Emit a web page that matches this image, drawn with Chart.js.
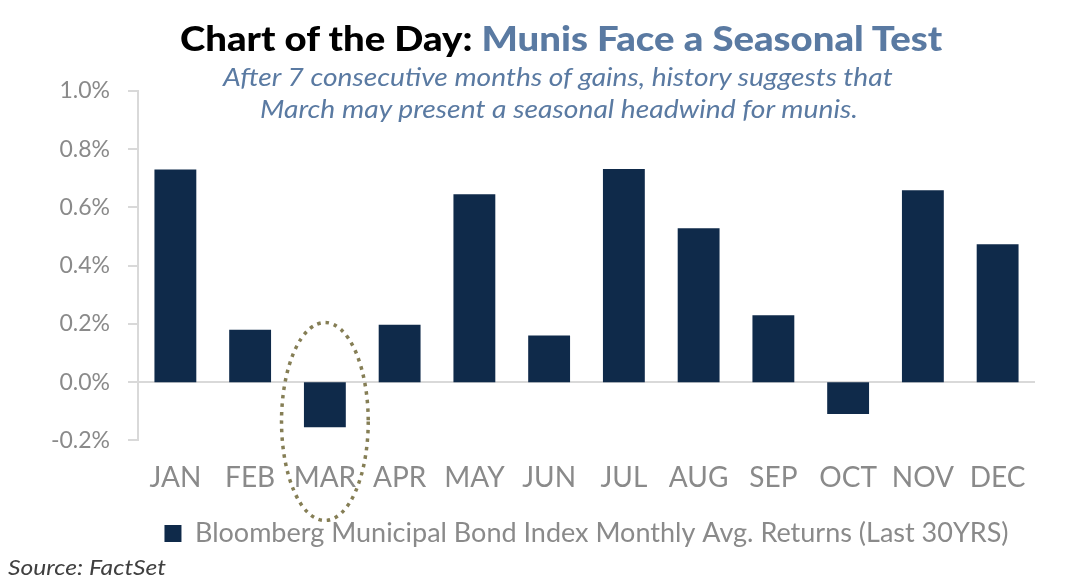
<!DOCTYPE html>
<html><head><meta charset="utf-8">
<script src="https://cdn.jsdelivr.net/npm/chart.js@4.4.1/dist/chart.umd.min.js"></script>
<style>
html,body{margin:0;padding:0;background:#fff;}
#wrap{position:relative;width:1079px;height:586px;overflow:hidden;background:#fff;}
#c{position:absolute;left:0;top:0;}
.t{position:absolute;white-space:nowrap;transform-origin:left top;line-height:1;font-family:Lato,"Noto Sans",sans-serif;}
#title{font-weight:900;font-size:35px;}
#sub1,#sub2{font-style:italic;font-size:26px;color:#5a7aa2;}
#src{font-style:italic;font-size:22px;color:#404040;}
</style></head><body>
<div id="wrap">
<canvas id="c" width="1079" height="586"></canvas>
<div id="title" class="t"><span style="color:#000">Chart of the Day:</span> <span style="color:#5a7aa2">Munis Face a Seasonal Test</span></div>
<div id="sub1" class="t">After 7 consecutive months of gains, history suggests that</div>
<div id="sub2" class="t">March may present a seasonal headwind for munis.</div>
<div id="src" class="t">Source: FactSet</div>
</div>
<script>
// ---- data ----
const months = ['JAN','FEB','MAR','APR','MAY','JUN','JUL','AUG','SEP','OCT','NOV','DEC'];
const avgReturns = [0.73, 0.18, -0.155, 0.197, 0.645, 0.16, 0.732, 0.529, 0.23, -0.109, 0.659, 0.474];
const seriesLabel = 'Bloomberg Municipal Bond Index Monthly Avg. Returns (Last 30YRS)';
const yMin = -0.2, yMax = 1.0, yStep = 0.2;
const highlightMonth = 'MAR';
const highlightTop = 0.205, highlightBottom = -0.475;

// ---- text placement ----
function fit(id, left, top, width){
  const el = document.getElementById(id);
  el.style.left = left + 'px';
  el.style.top = top + 'px';
  const w = el.offsetWidth;
  el.style.transform = 'scaleX(' + (width / w) + ')';
}
fit('title', 180, 20, 762);
fit('sub1', 223, 63, 670);
fit('sub2', 260, 95, 598);
fit('src', 8, 556, 158);

// ---- ellipse annotation ----
const ellipsePlugin = {
  id: 'ellipse',
  afterDraw(chart){
    const xs = chart.scales.x, ys = chart.scales.y;
    const idx = months.indexOf(highlightMonth);
    const cx = xs.getPixelForValue(idx);
    const catW = xs.width / months.length;
    const yt = ys.getPixelForValue(highlightTop);
    const yb = ys.getPixelForValue(highlightBottom);
    const ctx = chart.ctx;
    ctx.save();
    ctx.strokeStyle = '#857e55';
    ctx.lineWidth = 3.5;
    ctx.setLineDash([3.5, 5]);
    ctx.beginPath();
    ctx.ellipse(cx, (yt + yb) / 2, catW * 0.58, (yb - yt) / 2, 0, 0, Math.PI * 2);
    ctx.stroke();
    ctx.restore();
  }
};

const gray = '#8a8a8a';
const axisGray = '#d9d9d9';
new Chart(document.getElementById('c'), {
  type: 'bar',
  data: {
    labels: months,
    datasets: [{
      label: seriesLabel,
      data: avgReturns,
      backgroundColor: '#0f2a4a',
      borderWidth: 0,
      barPercentage: 0.56,
      categoryPercentage: 1.0
    }]
  },
  options: {
    responsive: false,
    animation: false,
    devicePixelRatio: 1,
    layout: { padding: { top: 91, right: 44, bottom: 29, left: 0 } },
    plugins: {
      title: { display: false },
      tooltip: { enabled: false },
      legend: {
        position: 'bottom',
        fullSize: false,
        labels: {
          boxWidth: 17, boxHeight: 17, padding: 4,
          color: gray,
          font: { family: 'Lato', size: 27 }
        }
      }
    },
    scales: {
      x: {
        grid: { display: false, drawTicks: false },
        border: { display: false },
        ticks: { color: gray, padding: 21, font: { family: 'Lato', size: 28 }, maxRotation: 0 }
      },
      y: {
        min: yMin, max: yMax,
        afterFit(scale){ scale.width = 138; },
        border: { display: true, color: axisGray, width: 2 },
        grid: {
          drawOnChartArea: true,
          drawTicks: true,
          tickLength: 10,
          tickColor: axisGray,
          lineWidth: 2,
          color: (c) => (c.tick && Math.abs(c.tick.value) < 1e-9) ? axisGray : 'rgba(0,0,0,0)'
        },
        ticks: {
          stepSize: yStep,
          color: gray,
          padding: 18,
          font: { family: 'Lato', size: 23 },
          callback: (v) => (Math.abs(v) < 1e-9 ? 0 : v).toFixed(1) + '%'
        }
      }
    }
  },
  plugins: [ellipsePlugin]
});
</script>
</body></html>
